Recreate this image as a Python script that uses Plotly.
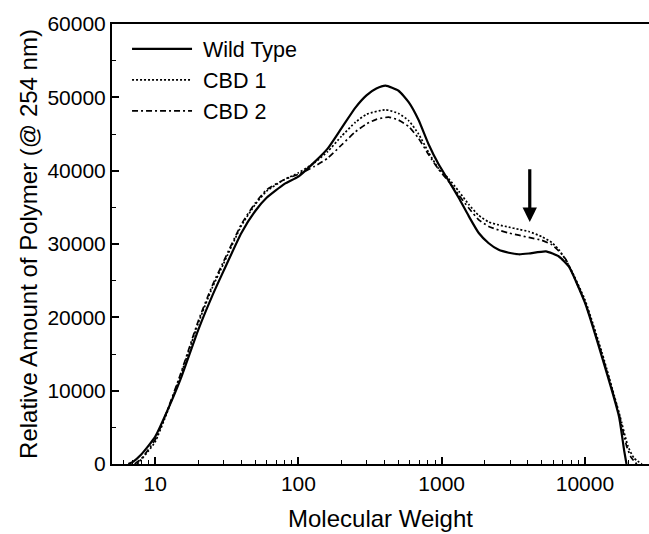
import numpy as np
import plotly.graph_objects as go

# ---- data ----
mw_wt = [6.5, 7, 8, 9, 10, 12, 15, 20, 25, 30, 40, 50, 60, 80, 100, 130, 160, 200, 250, 300, 350, 406,
         500, 590, 690, 810, 950, 1120, 1315, 1545, 1815, 2130, 2500, 2940, 3450, 4060, 5340, 6580, 7730,
         10000, 13150, 17300, 18760, 19500]
wild_type = [0, 300, 1300, 2500, 3700, 7000, 11500, 18300, 22900, 26300, 31500, 34500, 36300, 38200,
             39200, 41200, 43000, 45800, 48600, 50300, 51200, 51600, 50900, 49300, 46900, 43600, 40900,
             38600, 36300, 33800, 31500, 30100, 29200, 28800, 28600, 28700, 29000, 28300, 26900, 22000,
             14600, 6450, 1900, 0]

mw_c1 = [7.5, 8, 9, 10, 12, 15, 20, 25, 30, 40, 50, 60, 80, 100, 130, 160, 200, 250, 300, 406, 500, 590,
         690, 810, 950, 1120, 1315, 1545, 1815, 2130, 2500, 2940, 3450, 4060, 5000, 5880, 6600, 7360, 8000,
         10000, 13150, 17300, 20000, 22000, 25000]
cbd1 = [0, 600, 1800, 3000, 6800, 12000, 19200, 24000, 27300, 32500, 35400, 37200, 38800, 39700, 41100,
        42600, 44700, 46600, 47700, 48300, 47800, 46800, 45000, 42500, 40300, 38900, 37200, 35400, 33900,
        33000, 32600, 32300, 32000, 31700, 31000, 30200, 29200, 27800, 26500, 22400, 15200, 7000, 2400,
        800, 0]

mw_c2 = [7.2, 8, 9, 10, 12, 15, 20, 25, 30, 40, 50, 60, 80, 100, 130, 160, 200, 250, 300, 350, 426, 500,
         590, 690, 810, 950, 1120, 1315, 1545, 1815, 2130, 2500, 2940, 3450, 4060, 5000, 5880, 6600, 7360,
         8000, 10000, 13150, 17300, 19500, 21000, 23000]
cbd2 = [0, 700, 2000, 3300, 7000, 12200, 19500, 24300, 27600, 32700, 35600, 37400, 38800, 39500, 40600,
        41700, 43500, 45300, 46400, 47000, 47300, 46900, 46000, 44400, 42200, 40200, 38500, 36700, 34900,
        33300, 32400, 31900, 31500, 31200, 30900, 30500, 29900, 29000, 27900, 26400, 22100, 14900, 6800,
        2500, 900, 0]

x_tick_vals = [10, 100, 1000, 10000]
x_tick_text = ["10", "100", "1000", "10000"]
y_tick_vals = [0, 10000, 20000, 30000, 40000, 50000, 60000]
y_tick_text = ["0", "10000", "20000", "30000", "40000", "50000", "60000"]

arrow_mw = 4120
arrow_tip = 33000
arrow_tail = 40400

FONT = "Liberation Sans, Arial, sans-serif"

fig = go.Figure()
fig.add_trace(go.Scatter(x=mw_wt, y=wild_type, mode="lines", name=" Wild Type",
                         line=dict(color="black", width=2.2, shape="spline", smoothing=0.5)))
fig.add_trace(go.Scatter(x=mw_c1, y=cbd1, mode="lines", name=" CBD 1",
                         line=dict(color="black", width=1.7, dash="2px,2px", shape="spline", smoothing=0.5)))
fig.add_trace(go.Scatter(x=mw_c2, y=cbd2, mode="lines", name=" CBD 2",
                         line=dict(color="black", width=1.7, dash="6px,3px,2px,3px", shape="spline", smoothing=0.5)))

fig.add_annotation(x=np.log10(arrow_mw), y=arrow_tip, ax=np.log10(arrow_mw), ay=arrow_tail,
                   xref="x", yref="y", axref="x", ayref="y", text="", showarrow=True,
                   arrowhead=2, arrowsize=0.9, arrowwidth=3.2, arrowcolor="black")

fig.update_layout(
    width=649, height=534,
    margin=dict(l=112, r=0, t=24, b=70),
    paper_bgcolor="white", plot_bgcolor="white",
    font=dict(family=FONT, size=21, color="black"),
    showlegend=True,
    legend=dict(x=0.028, y=0.99, xanchor="left", yanchor="top", bgcolor="rgba(0,0,0,0)",
                font=dict(size=21.5, family=FONT), itemwidth=60, tracegroupgap=0),
)
fig.update_xaxes(type="log", range=[np.log10(5), np.log10(28000)],
                 tickvals=x_tick_vals, ticktext=x_tick_text,
                 ticks="inside", ticklen=7, tickwidth=1.5, tickcolor="black",
                 minor=dict(ticks="inside", ticklen=4, tickwidth=1.2, tickcolor="black", dtick="D1"),
                 showline=True, linecolor="black", linewidth=2, mirror=True,
                 showgrid=False, zeroline=False,
                 title=dict(text="Molecular Weight", font=dict(size=24), standoff=16))
fig.update_yaxes(range=[0, 60000], tickvals=y_tick_vals, ticktext=y_tick_text,
                 ticks="inside", ticklen=7, tickwidth=1.5, tickcolor="black",
                 minor=dict(ticks="inside", ticklen=4, tickwidth=1.2, tickcolor="black", dtick=5000),
                 showline=True, linecolor="black", linewidth=2, mirror=False,
                 showgrid=False, zeroline=False,
                 title=dict(text="Relative Amount of Polymer (@ 254 nm)", font=dict(size=24), standoff=3))

fig.write_html("out.html")
